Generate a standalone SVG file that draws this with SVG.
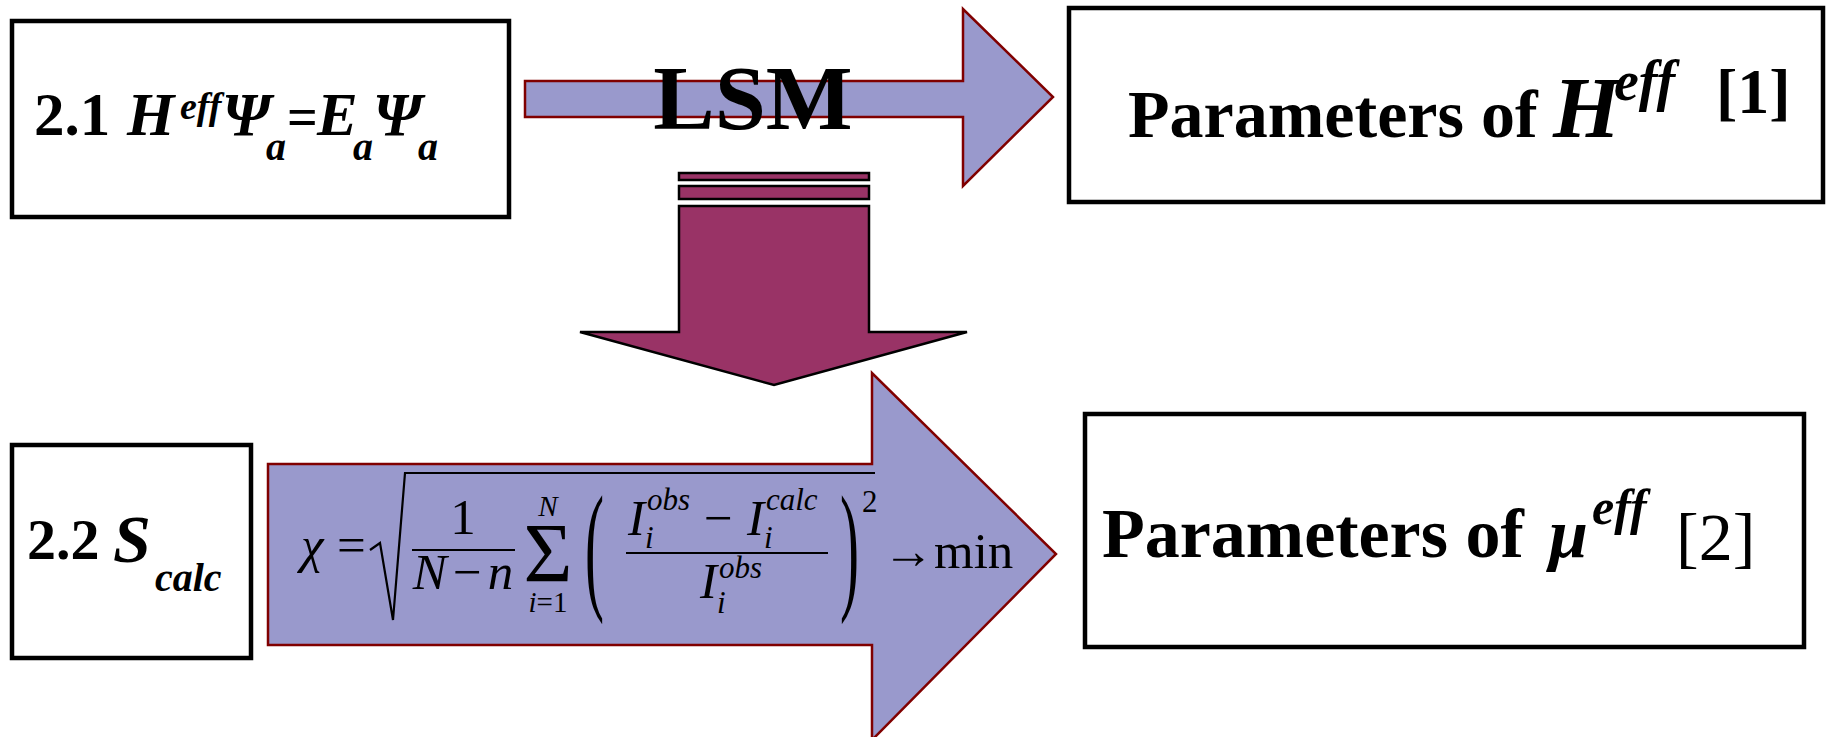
<svg xmlns="http://www.w3.org/2000/svg" width="1829" height="737" viewBox="0 0 1829 737">
  <defs>
    <style>
      .box { fill: #ffffff; stroke: #000000; stroke-width: 4.5; }
      .flow { fill: #9999cc; stroke: #800000; stroke-width: 2.5; stroke-linejoin: miter; }
      .down { fill: #993366; stroke: #000000; stroke-width: 2.5; stroke-linejoin: miter; }
      .serif { font-family: "Liberation Serif", "DejaVu Serif", "Times New Roman", serif; fill: #000000; }
      .b { font-weight: bold; }
      .bi { font-weight: bold; font-style: italic; }
      .it { font-style: italic; }
      .rule { stroke: #000000; stroke-width: 2.2; fill: none; }
    </style>
  </defs>

  <rect width="1829" height="737" fill="#ffffff"/>

  <!-- connectors: block arrows between the steps -->
  <g id="connectors">
    <polygon id="arrow-lsm" class="flow" points="525,81 963,81 963,9 1053,97 963,186 963,117 525,117"/>
    <g id="arrow-down">
      <rect class="down" x="679" y="173" width="190" height="7"/>
      <rect class="down" x="679" y="186" width="190" height="13"/>
      <polygon class="down" points="679,206 869,206 869,332 967,332 774,385 580,332 679,332"/>
    </g>
    <polygon id="arrow-fit" class="flow" points="268,464 872,464 872,373 1056,554 872,740 872,645 268,645"/>
  </g>

  <!-- LSM label over the upper arrow -->
  <text id="label-lsm" class="serif b" x="753" y="129" font-size="92" text-anchor="middle">LSM</text>

  <!-- step 2.1 -->
  <g id="node-2-1">
    <rect class="box" x="12" y="21" width="497" height="196"/>
    <text class="serif b" font-size="61">
      <tspan x="34" y="135">2.1</tspan>
      <tspan class="bi" x="127" y="135">H</tspan>
      <tspan class="bi" x="180" y="119" font-size="38">eff</tspan>
      <tspan class="bi" x="222" y="135">Ψ</tspan>
      <tspan class="bi" x="266" y="160" font-size="40">a</tspan>
      <tspan x="287" y="135" font-size="54">=</tspan>
      <tspan class="bi" x="317" y="135">E</tspan>
      <tspan class="bi" x="353" y="160" font-size="40">a</tspan>
      <tspan class="bi" x="373" y="135">Ψ</tspan>
      <tspan class="bi" x="418" y="160" font-size="40">a</tspan>
    </text>
  </g>

  <!-- result of step 2.1 -->
  <g id="node-heff">
    <rect class="box" x="1069" y="8" width="754" height="194"/>
    <text class="serif b" font-size="68">
      <tspan x="1128" y="137">Parameters of</tspan>
      <tspan class="bi" x="1553" y="137" font-size="86">H</tspan>
      <tspan class="bi" x="1614" y="100" font-size="56">eff</tspan>
      <tspan x="1716" y="113" font-size="64">[1]</tspan>
    </text>
  </g>

  <!-- step 2.2 -->
  <g id="node-2-2">
    <rect class="box" x="12" y="445" width="239" height="213"/>
    <text class="serif b" font-size="58">
      <tspan x="27" y="559">2.2</tspan>
      <tspan class="bi" x="113" y="562" font-size="68">S</tspan>
      <tspan class="bi" x="155" y="591" font-size="40">calc</tspan>
    </text>
  </g>

  <!-- least-squares criterion inside the lower arrow -->
  <g id="formula" class="serif">
    <text class="it" x="301" y="562" font-size="51">χ</text>
    <text x="337" y="562" font-size="51">=</text>
    <path class="rule" d="M370,550 L380,543 L393,620 L405,473 H875"/>
    <text x="463" y="534" font-size="51" text-anchor="middle">1</text>
    <line class="rule" x1="412" y1="550" x2="515" y2="550"/>
    <text x="463" y="589" font-size="51" text-anchor="middle"><tspan class="it">N</tspan><tspan dx="6">−</tspan><tspan class="it" dx="6">n</tspan></text>
    <text x="548" y="582" font-size="84" text-anchor="middle">Σ</text>
    <text class="it" x="548" y="516" font-size="29" text-anchor="middle">N</text>
    <text x="548" y="612" font-size="29" text-anchor="middle"><tspan class="it">i</tspan>=1</text>
    <text transform="translate(585,594) scale(0.95,2.35)" font-size="60">(</text>
    <text font-size="51">
      <tspan class="it" x="628" y="535">I</tspan>
      <tspan class="it" x="647" y="510" font-size="31">obs</tspan>
      <tspan class="it" x="645" y="548" font-size="31">i</tspan>
      <tspan x="704" y="535">−</tspan>
      <tspan class="it" x="747" y="535">I</tspan>
      <tspan class="it" x="766" y="510" font-size="31">calc</tspan>
      <tspan class="it" x="764" y="548" font-size="31">i</tspan>
    </text>
    <line class="rule" x1="626" y1="553" x2="828" y2="553"/>
    <text font-size="51">
      <tspan class="it" x="700" y="598">I</tspan>
      <tspan class="it" x="719" y="578" font-size="31">obs</tspan>
      <tspan class="it" x="717" y="613" font-size="31">i</tspan>
    </text>
    <text transform="translate(840,594) scale(0.95,2.35)" font-size="60">)</text>
    <text x="862" y="512" font-size="31">2</text>
    <text x="883" y="568" font-size="51">→min</text>
  </g>

  <!-- result of step 2.2 -->
  <g id="node-mueff">
    <rect class="box" x="1085" y="414" width="719" height="233"/>
    <text class="serif b" font-size="70">
      <tspan x="1102" y="557">Parameters of</tspan>
      <tspan class="bi" x="1549" y="557">μ</tspan>
      <tspan class="bi" x="1592" y="524" font-size="50">eff</tspan>
      <tspan x="1676" y="560" font-size="68" font-weight="normal">[2]</tspan>
    </text>
  </g>
</svg>
